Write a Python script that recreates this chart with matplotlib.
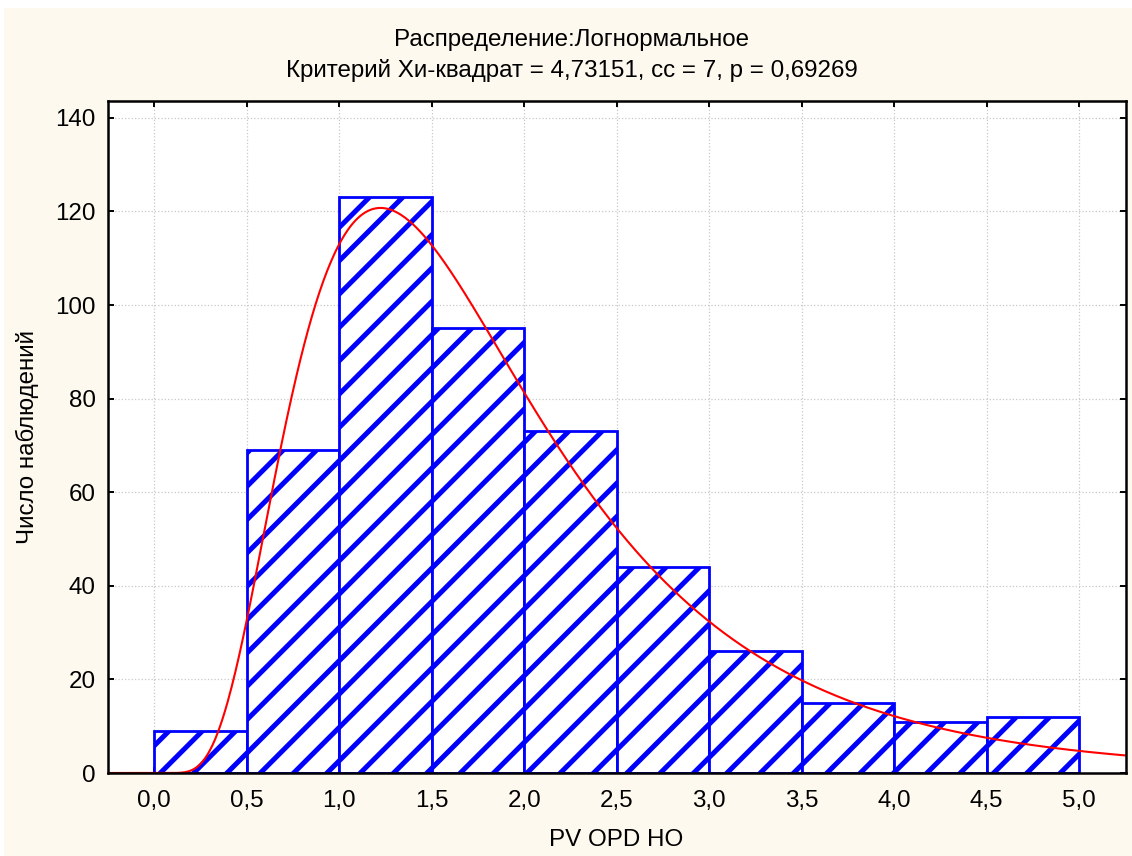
import numpy as np
import matplotlib
matplotlib.use("Agg")
import matplotlib.pyplot as plt
from matplotlib.patches import Rectangle

# ---- data ----
bin_edges = [0.0, 0.5, 1.0, 1.5, 2.0, 2.5, 3.0, 3.5, 4.0, 4.5, 5.0]
counts = [9, 69, 123, 95, 73, 44, 26, 15, 11, 12]
x_ticks = [0.0, 0.5, 1.0, 1.5, 2.0, 2.5, 3.0, 3.5, 4.0, 4.5, 5.0]
x_tick_labels = ["0,0", "0,5", "1,0", "1,5", "2,0", "2,5", "3,0", "3,5", "4,0", "4,5", "5,0"]
y_ticks = [0, 20, 40, 60, 80, 100, 120, 140]
y_tick_labels = ["0", "20", "40", "60", "80", "100", "120", "140"]
# fitted lognormal parameters (log-space)
ln_mu = 0.507
ln_sigma = 0.553

title1 = "Распределение:Логнормальное"
title2 = "Критерий Хи-квадрат = 4,73151, сс = 7, р = 0,69269"
xlabel = "PV OPD HO"
ylabel = "Число наблюдений"

plt.rcParams['font.family'] = ['Liberation Sans', 'DejaVu Sans']
plt.rcParams['hatch.linewidth'] = 1.8

DPI = 200
FS = 8.7
fig = plt.figure(figsize=(1132 / DPI, 856 / DPI), dpi=DPI, facecolor="white")
# cream background panel
bg = Rectangle((4 / 1132, 0), 1.0, (856 - 8) / 856, transform=fig.transFigure,
               facecolor="#FDF9EE", edgecolor="none", zorder=-10)
fig.patches.append(bg)

ax = fig.add_axes([108 / 1132, (856 - 773) / 856, (1125.5 - 108) / 1132, (773 - 101) / 856])
ax.set_facecolor("white")

edges = np.array(bin_edges)
widths = np.diff(edges)
ax.bar(edges[:-1], counts, width=widths, align="edge", facecolor="white",
       edgecolor="#0000FF", linewidth=1.0, hatch="//", zorder=2)

# fitted curve (expected counts per bin)
n_total = sum(counts)
bw = widths[0]
xs = np.linspace(-0.25, 5.25, 800)
ys = np.zeros_like(xs)
pos = xs > 0
xp = xs[pos]
ys[pos] = n_total * bw * np.exp(-(np.log(xp) - ln_mu) ** 2 / (2 * ln_sigma ** 2)) / (xp * ln_sigma * np.sqrt(2 * np.pi))
ax.plot(xs, ys, color="#FF0000", linewidth=0.75, zorder=3)

ax.set_xlim(-0.25, 5.25)
ax.set_ylim(0, 143.6)
ax.set_xticks(x_ticks)
ax.set_xticklabels(x_tick_labels)
ax.set_yticks(y_ticks)
ax.set_yticklabels(y_tick_labels)

ax.tick_params(axis="both", direction="in", length=2.2, width=0.7, labelsize=FS,
               top=True, right=True, colors="black")
ax.tick_params(axis="x", pad=6.0)
ax.tick_params(axis="y", pad=4.5)
for s in ax.spines.values():
    s.set_linewidth(0.9)
    s.set_color("black")
    s.set_zorder(5)

ax.grid(True, color="#c8c8c8", linestyle=":", linewidth=0.45, zorder=0)
ax.set_axisbelow(True)

fig.text(572 / 1132, 1 - 40 / 856, title1, ha="center", va="center", fontsize=FS)
fig.text(572 / 1132, 1 - 70 / 856, title2, ha="center", va="center", fontsize=FS)
fig.text(616 / 1132, 1 - 840 / 856, xlabel, ha="center", va="center", fontsize=FS)
fig.text(27 / 1132, 1 - 437 / 856, ylabel, ha="center", va="center", fontsize=FS, rotation=90)

fig.savefig("out.png", dpi=DPI, facecolor=fig.get_facecolor())
